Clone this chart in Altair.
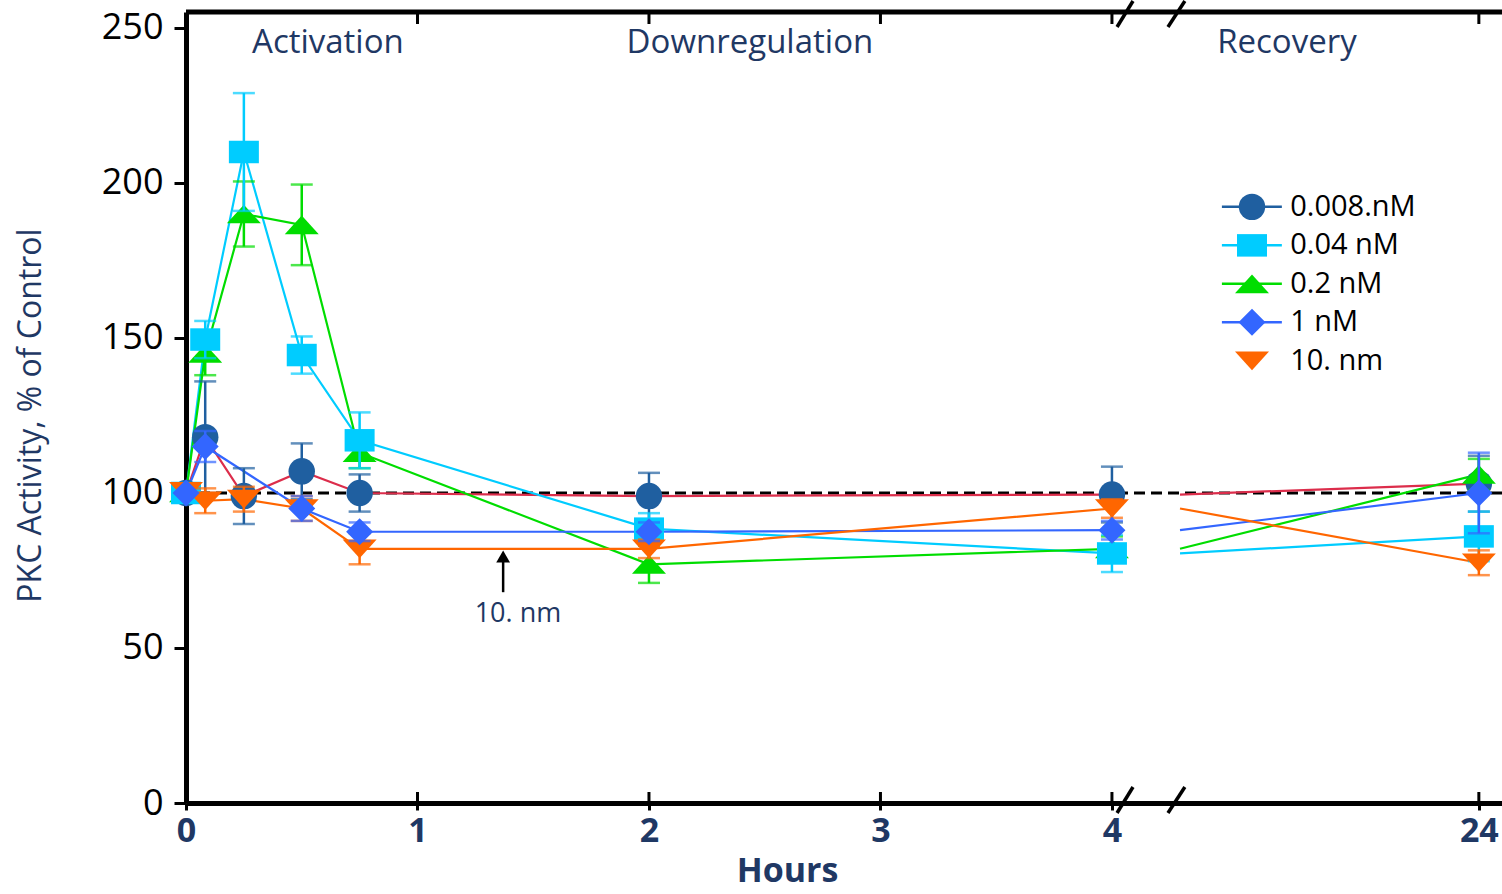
import altair as alt
import pandas as pd

# ---------------- data ----------------
HOURS = [0, 0.083, 0.25, 0.5, 0.75, 2, 4, 24]
SERIES = ["0.008.nM", "0.04 nM", "0.2 nM", "1 nM", "10. nm"]

V_0008 = [100, 118, 99, 107, 100, 99, 99.5, 103]
E_0008 = [0, 18, 9, 9, 6, 7.5, 9, 9]
V_004 = [100, 149.5, 210, 144.5, 117, 88.5, 80.5, 86]
E_004 = [0, 6, 19, 6, 9, 5, 6, 8]
V_02 = [100, 145, 190, 186.5, 113, 77, 82, 106]
E_02 = [0, 7, 10.5, 13, 5, 6, 4, 5]
V_1 = [100, 115, None, 95, 87.5, 87.5, 88, 100]
E_1 = [0, 5, 0, 4, 3, 3, 3, 13]
V_10 = [100.5, 97.5, 98, 95, 82, 82, 95, 77.5]
E_10 = [0, 4, 4, 4, 5, 3, 3, 4]

VALUES = [V_0008, V_004, V_02, V_1, V_10]
ERRORS = [E_0008, E_004, E_02, E_1, E_10]

X_TICK_HOURS = [0, 1, 2, 3, 4, 24]
Y_TICKS = [0, 50, 100, 150, 200, 250]
PHASES = ["Activation", "Downregulation", "Recovery"]
CONTROL = 100
ANNOT_TEXT = "10. nm"

# ---------------- styles / layout ----------------
FONT = "Open Sans"
NAVY = "#1f3864"
MARK_COLORS = ["#1f5fa0", "#00ccff", "#00dd00", "#3366ff", "#ff6600"]
LINE_COLORS = ["#dc2d4b", "#00ccff", "#00dd00", "#3366ff", "#ff6600"]
SHAPES = [
    "circle",
    "M-1,-0.75H1V0.75H-1Z",
    "M0,-0.55L1,0.55L-1,0.55Z",
    "diamond",
    "M-1,-0.55L1,-0.55L0,0.55Z",
]
SIZES = [700, 900, 1156, 729, 1156]
DRAW_ORDER = [0, 2, 1, 4, 3]

POS_24 = 5.585          # axis position of the 24 h point (after the break)
BREAK_END = 4.294       # where the lines resume after the break
X_MAX = 5.685
Y_MAX = 255.16
W, H = 1316, 791

PHASE_POS = [0.613, 2.436, 4.756]
PHASE_Y = 245.2


def pos(h):
    return h if h <= 4 else POS_24


# build tables
rows = []
line_rows = []
for si, s in enumerate(SERIES):
    vals, errs = VALUES[si], ERRORS[si]
    for h, v, e in zip(HOURS, vals, errs):
        if v is None:
            continue
        rows.append(dict(series=s, hours=h, pos=pos(h), value=v, err=e,
                         lo=v - e, hi=v + e))
        if h <= 4:
            line_rows.append(dict(series=s, key=s + "a", pos=pos(h), value=v,
                                  lc=LINE_COLORS[si]))
    v4 = vals[HOURS.index(4)]
    v24 = vals[HOURS.index(24)]
    line_rows.append(dict(series=s, key=s + "b", pos=BREAK_END, value=v4, lc=LINE_COLORS[si]))
    line_rows.append(dict(series=s, key=s + "b", pos=POS_24, value=v24, lc=LINE_COLORS[si]))

df = pd.DataFrame(rows)
df_lines = pd.DataFrame(line_rows)

tick_pos = [pos(h) for h in X_TICK_HOURS]
label_expr = "datum.value > 5 ? '24' : format(datum.value, 'd')"

xscale = alt.Scale(domain=[0, X_MAX], nice=False, zero=False)
yscale = alt.Scale(domain=[0, Y_MAX], nice=False, zero=True)

xaxis = alt.Axis(values=tick_pos, labelExpr=label_expr, grid=False,
                 domainWidth=5, domainColor="black", tickWidth=3, tickSize=7,
                 tickColor="black", labelFont=FONT, labelFontSize=34,
                 labelFontWeight="bold", labelColor=NAVY, labelPadding=4,
                 title="Hours", titleFont=FONT, titleFontSize=34,
                 titleFontWeight="bold", titleColor=NAVY, titleX=601, titleY=68,
                 titleBaseline="middle", titleAlign="center", labelFlush=False)
yaxis = alt.Axis(values=Y_TICKS, grid=False, domainWidth=5, domainColor="black",
                 tickWidth=3, tickSize=12, tickColor="black", labelFont=FONT,
                 labelFontSize=36, labelColor="black", labelPadding=11,
                 title="PKC Activity, % of Control", titleFont=FONT,
                 titleFontSize=32, titleFontWeight="normal", titleColor=NAVY,
                 titleX=-156, titleY=403, titleAngle=-90, titleAlign="center",
                 titleBaseline="middle")


def X(field):
    return alt.X(field, type="quantitative", scale=xscale, axis=xaxis)


def Y(field):
    return alt.Y(field, type="quantitative", scale=yscale, axis=yaxis)


layers = []

# dashed control line
layers.append(
    alt.Chart(pd.DataFrame({"c": [CONTROL]})).mark_rule(
        color="black", strokeWidth=3, strokeDash=[11, 6]
    ).encode(y=Y("c"))
)

# series lines
layers.append(
    alt.Chart(df_lines).mark_line(strokeWidth=2.2).encode(
        x=X("pos"), y=Y("value"),
        color=alt.Color("lc:N", scale=None), detail="key:N"
    )
)

# error bars + markers
for si in DRAW_ORDER:
    s = SERIES[si]
    sub = df[(df.series == s) & (df.err > 0)]
    base = alt.Chart(sub)
    layers.append(base.mark_rule(color=MARK_COLORS[si], strokeWidth=2.5).encode(
        x=X("pos"), y=Y("lo"), y2="hi"))
    layers.append(base.mark_tick(color=MARK_COLORS[si], orient="horizontal",
                                 size=22, thickness=2.5).encode(x=X("pos"), y=Y("lo")))
    layers.append(base.mark_tick(color=MARK_COLORS[si], orient="horizontal",
                                 size=22, thickness=2.5).encode(x=X("pos"), y=Y("hi")))
    layers.append(alt.Chart(df[df.series == s]).mark_point(
        filled=True, opacity=1, strokeWidth=0).encode(
        x=X("pos"), y=Y("value"),
        shape=alt.value(SHAPES[si]), color=alt.value(MARK_COLORS[si]),
        size=alt.value(SIZES[si])))

# phase labels
phase_df = pd.DataFrame({"t": PHASES, "x": PHASE_POS, "y": [PHASE_Y] * 3})
layers.append(alt.Chart(phase_df).mark_text(
    font=FONT, fontSize=33, color=NAVY, baseline="middle", align="center"
).encode(x=X("x"), y=Y("y"), text="t:N"))

# annotation arrow
arrow_df = pd.DataFrame({"x": [1.37], "y0": [68.0], "y1": [79.5], "ty": [61.0], "tx": [1.434]})
layers.append(alt.Chart(arrow_df).mark_rule(color="black", strokeWidth=2.5).encode(
    x=X("x"), y=Y("y0"), y2="y1"))
layers.append(alt.Chart(arrow_df).mark_point(
    filled=True, opacity=1, color="black", shape="triangle-up", size=190, strokeWidth=0
).encode(x=X("x"), y=Y("y1")))
layers.append(alt.Chart(arrow_df.assign(t=ANNOT_TEXT)).mark_text(
    font=FONT, fontSize=27, color=NAVY, baseline="middle", align="center"
).encode(x=X("tx"), y=Y("ty"), text="t:N"))

# legend
LEG_X0, LEG_X1, LEG_XS, LEG_XT = 4.475, 4.734, 4.605, 4.77
LEG_TOP, LEG_STEP = 192.3, 12.42
for si, s in enumerate(SERIES):
    ly = LEG_TOP - si * LEG_STEP
    ldf = pd.DataFrame({"x0": [LEG_X0], "x1": [LEG_X1], "xs": [LEG_XS],
                        "xt": [LEG_XT], "y": [ly], "t": [s]})
    lc = alt.Chart(ldf)
    if si < 4:
        layers.append(lc.mark_rule(color=MARK_COLORS[si], strokeWidth=2.5).encode(
            x=X("x0"), x2="x1", y=Y("y")))
    layers.append(lc.mark_point(filled=True, opacity=1, strokeWidth=0).encode(
        x=X("xs"), y=Y("y"), shape=alt.value(SHAPES[si]),
        color=alt.value(MARK_COLORS[si]), size=alt.value(SIZES[si])))
    layers.append(lc.mark_text(font=FONT, fontSize=29, color="black", align="left",
                               baseline="middle").encode(x=X("xt"), y=Y("y"), text="t:N"))

# frame: top line, top ticks, inner bottom ticks, break marks
layers.append(alt.Chart(pd.DataFrame({"a": [0]})).mark_rule(
    color="black", strokeWidth=5).encode(y=alt.value(0)))
tdf = pd.DataFrame({"x": tick_pos[1:]})
layers.append(alt.Chart(tdf).mark_rule(color="black", strokeWidth=3).encode(
    x=X("x"), y=alt.value(0), y2=alt.value(12)))
layers.append(alt.Chart(tdf).mark_rule(color="black", strokeWidth=3).encode(
    x=X("x"), y=alt.value(H - 11), y2=alt.value(H)))
bdf = pd.DataFrame({"x0": [4.022, 4.242], "x1": [4.091, 4.315]})
for yb in [H + 10, 15]:
    layers.append(alt.Chart(bdf).mark_rule(color="black", strokeWidth=3.5).encode(
        x=X("x0"), x2="x1", y=alt.value(yb), y2=alt.value(yb - 26)))

chart = alt.layer(*layers).properties(
    width=W, height=H,
    padding={"left": 186, "top": 12, "right": 0, "bottom": 91},
    autosize="none",
).configure_view(stroke=None).configure(background="white")

chart.save("out.html", embed_options={"renderer": "svg", "actions": False})
